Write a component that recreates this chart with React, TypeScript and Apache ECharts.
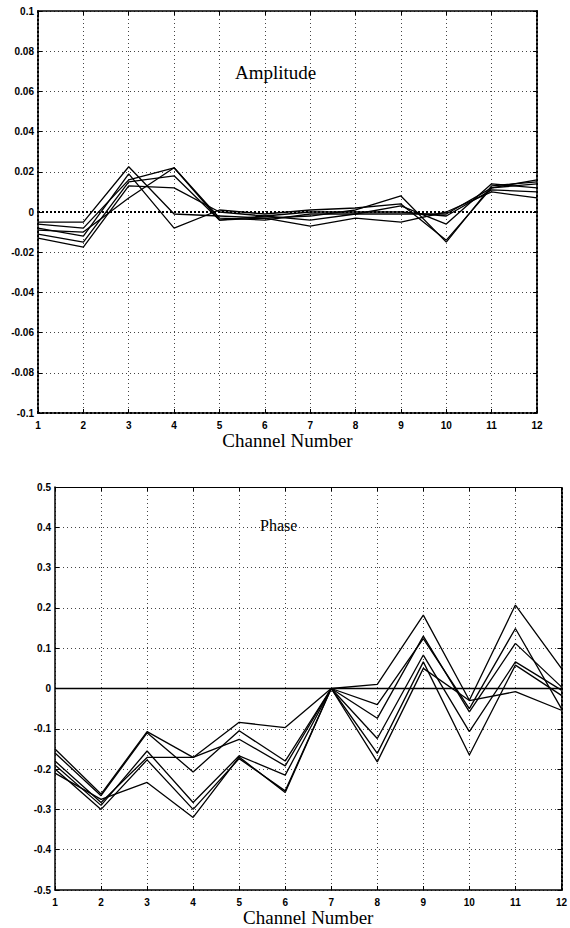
import React, { useEffect, useRef } from "react";
import * as echarts from "echarts";

const channels = ["1", "2", "3", "4", "5", "6", "7", "8", "9", "10", "11", "12"];

// Amplitude (top panel)
const amp1 = [-0.005, -0.005, 0.0225, -0.001, -0.002, -0.003, -0.002, 0.001, 0.008, -0.015, 0.013, 0.015];
const amp2 = [-0.008, -0.012, 0.019, -0.008, 0.001, -0.001, 0.001, 0.002, 0.004, -0.014, 0.012, 0.014];
const amp3 = [-0.006, -0.008, 0.016, 0.022, -0.003, -0.004, -0.001, -0.001, 0.003, -0.006, 0.014, 0.012];
const amp4 = [-0.011, -0.015, 0.015, 0.018, -0.004, -0.002, 0.0, 0.0, 0.0, -0.002, 0.011, 0.01];
const amp5 = [-0.013, -0.0175, 0.013, 0.012, 0.0, -0.002, -0.004, -0.001, -0.001, -0.001, 0.012, 0.016];
const amp6 = [-0.009, -0.01, 0.007, 0.022, -0.004, -0.003, -0.007, -0.003, -0.005, 0.0, 0.01, 0.007];

// Phase (bottom panel)
const ph1 = [-0.15, -0.262, -0.107, -0.171, -0.084, -0.097, 0, 0.01, 0.182, -0.029, 0.207, 0.05];
const ph2 = [-0.16, -0.266, -0.11, -0.207, -0.105, -0.18, 0, -0.04, 0.124, -0.05, 0.149, -0.05];
const ph3 = [-0.18, -0.283, -0.171, -0.171, -0.126, -0.192, 0, -0.074, 0.13, -0.058, 0.112, 0.004];
const ph4 = [-0.19, -0.29, -0.155, -0.283, -0.167, -0.215, 0, -0.124, 0.083, -0.107, 0.066, -0.004];
const ph5 = [-0.2, -0.3, -0.177, -0.3, -0.174, -0.254, 0, -0.161, 0.066, -0.165, 0.058, -0.017];
const ph6 = [-0.21, -0.275, -0.233, -0.32, -0.17, -0.258, 0, -0.182, 0.05, -0.03, -0.008, -0.054];
const phZero = [0, 0, 0, 0, 0, 0, 0, 0, 0, 0, 0, 0];

const ampSeries = [amp1, amp2, amp3, amp4, amp5, amp6];
const phSeries = [ph1, ph2, ph3, ph4, ph5, ph6];

const ampRange = { min: -0.1, max: 0.1, interval: 0.02 };
const phRange = { min: -0.5, max: 0.5, interval: 0.1 };

const tickFont = { fontFamily: "Liberation Sans", fontSize: 10, fontWeight: "bold" as const, color: "#000" };
const serif = "Liberation Serif";

function fmt(v: number) {
  return String(+v.toFixed(2));
}

const dottedAxis = { color: "#000", width: 2, type: [2, 2] as number[] };
const solidAxis = { color: "#000", width: 1.5, type: "solid" };
const thinSolid = { color: "#000", width: 1, type: "solid" };

export default function App() {
  const ref = useRef<HTMLDivElement>(null);
  useEffect(() => {
    if (!ref.current) return;
    const chart = echarts.init(ref.current, null, { renderer: "svg" });
    const gridLine = { show: true, lineStyle: { color: "#444", width: 1, type: [1, 3] as number[] } };
    const mkX = (gi: number, bottom: boolean, ls: any) => ({
      type: "category",
      gridIndex: gi,
      data: channels,
      boundaryGap: false,
      position: bottom ? "bottom" : "top",
      axisLine: { show: true, onZero: false, lineStyle: ls },
      axisTick: { show: true, inside: true, length: 4, alignWithLabel: true, lineStyle: { color: "#000" } },
      axisLabel: bottom ? { show: true, interval: 0, margin: 7, ...tickFont } : { show: false },
      splitLine: bottom ? { ...gridLine, interval: 0 } : { show: false },
      name: bottom ? "Channel Number" : "",
      nameLocation: "middle",
      nameGap: 15,
      nameTextStyle: { fontFamily: serif, fontSize: 19, color: "#000", verticalAlign: "top" },
    });
    const mkY = (gi: number, left: boolean, r: { min: number; max: number; interval: number }, ls: any) => ({
      type: "value",
      gridIndex: gi,
      position: left ? "left" : "right",
      min: r.min,
      max: r.max,
      interval: r.interval,
      axisLine: { show: true, onZero: false, lineStyle: ls },
      axisTick: { show: true, inside: true, length: 4, lineStyle: { color: "#000" } },
      axisLabel: left ? { show: true, margin: 4, formatter: fmt, ...tickFont } : { show: false },
      splitLine: left ? gridLine : { show: false },
    });
    const lineStyle = { color: "#000", width: 1.3 };
    const series: any[] = [];
    ampSeries.forEach((d, i) => {
      series.push({
        type: "line",
        xAxisIndex: 0,
        yAxisIndex: 0,
        data: d,
        symbol: "none",
        lineStyle,
        z: 3,
        markLine:
          i === 0
            ? {
                silent: true,
                symbol: "none",
                label: { show: false },
                lineStyle: { color: "#000", width: 2, type: [2, 2] },
                data: [{ yAxis: 0 }],
              }
            : undefined,
      });
    });
    phSeries.forEach((d) => {
      series.push({ type: "line", xAxisIndex: 2, yAxisIndex: 2, data: d, symbol: "none", lineStyle, z: 3 });
    });
    series.push({
      type: "line",
      xAxisIndex: 2,
      yAxisIndex: 2,
      data: phZero,
      symbol: "none",
      lineStyle: { color: "#000", width: 1.6 },
      z: 4,
    });
    chart.setOption({
      animation: false,
      backgroundColor: "#fff",
      title: [
        { text: "Amplitude", left: 230, top: 58, textStyle: { fontFamily: serif, fontSize: 19, fontWeight: "normal", color: "#000" } },
        { text: "Phase", left: 255, top: 512, textStyle: { fontFamily: serif, fontSize: 16, fontWeight: "normal", color: "#000" } },
      ],
      grid: [
        { left: 38, top: 11, width: 499, height: 402 },
        { left: 55, top: 487, width: 508, height: 403 },
      ],
      xAxis: [
        mkX(0, true, dottedAxis),
        mkX(0, false, solidAxis),
        mkX(1, true, solidAxis),
        mkX(1, false, thinSolid),
      ],
      yAxis: [
        mkY(0, true, ampRange, dottedAxis),
        mkY(0, false, ampRange, dottedAxis),
        mkY(1, true, phRange, solidAxis),
        mkY(1, false, phRange, dottedAxis),
      ],
      series,
    });
    return () => chart.dispose();
  }, []);
  return (
    <div
      ref={ref}
      style={{ position: "fixed", left: 0, top: 0, width: 570, height: 928, background: "#fff" }}
    />
  );
}
